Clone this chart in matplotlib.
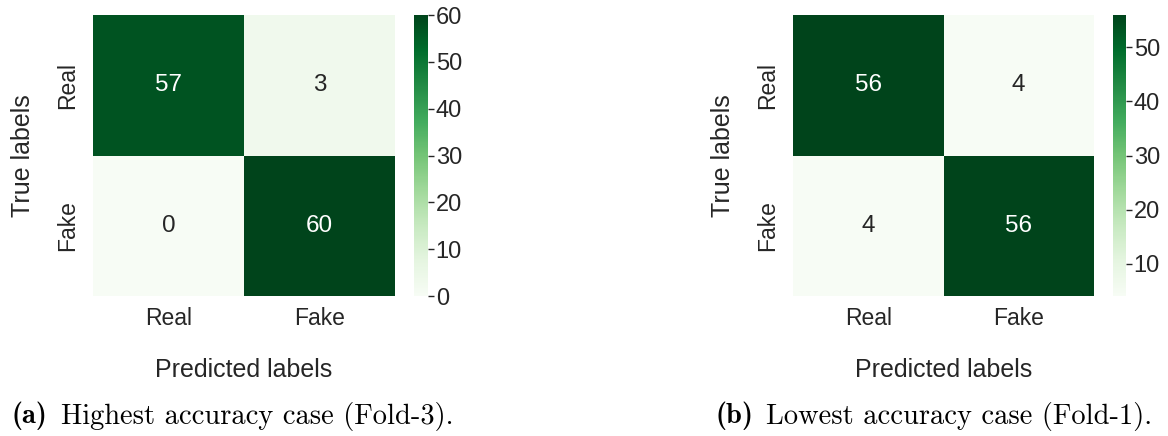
import matplotlib
matplotlib.use("Agg")
import matplotlib.pyplot as plt
from matplotlib.ticker import MultipleLocator
import numpy as np
import seaborn as sns

class_names = ["Real", "Fake"]
cm_fold3 = [[57, 3], [0, 60]]
cm_fold1 = [[56, 4], [4, 56]]
caption_tags = ["(a)", "(b)"]
caption_texts = ["Highest accuracy case (Fold-3).", "Lowest accuracy case (Fold-1)."]

sns.set_theme(style="white")
plt.rcParams["font.family"] = ["Liberation Sans", "DejaVu Sans"]
plt.rcParams["text.color"] = "#262626"

W, H = 1168, 436
fig = plt.figure(figsize=(W / 100, H / 100), dpi=100)

def frac(x0, x1, y0, y1):
    return [x0 / W, 1 - y1 / H, (x1 - x0) / W, (y1 - y0) / H]

panels = [
    (cm_fold3, frac(93, 395, 15, 296), frac(414, 428, 15, 296)),
    (cm_fold1, frac(793, 1094, 15, 296), frac(1113, 1126, 15, 296)),
]

for mat, hm_box, cb_box in panels:
    ax = fig.add_axes(hm_box)
    cax = fig.add_axes(cb_box)
    sns.heatmap(np.array(mat), annot=True, fmt="d", cmap="Greens",
                xticklabels=class_names, yticklabels=class_names,
                ax=ax, cbar_ax=cax, annot_kws={"size": 17.5})
    ax.set_xlabel("Predicted labels", fontsize=18, labelpad=20)
    ax.set_ylabel("True labels", fontsize=18, labelpad=15)
    ax.tick_params(axis="both", labelsize=16.5, length=0)
    ax.tick_params(axis="x", pad=8)
    ax.tick_params(axis="y", pad=10, rotation=90)
    for t in ax.get_yticklabels():
        t.set_va("center")
    cax.yaxis.set_major_locator(MultipleLocator(10))
    cax.tick_params(labelsize=17, length=4, width=1, color="#262626", pad=1.5)
    for s in cax.spines.values():
        s.set_visible(False)

# Sub-figure captions: bold tag followed by roman description
fig.canvas.draw()
renderer = fig.canvas.get_renderer()
for tag, desc, x0 in zip(caption_tags, caption_texts, [12, 715]):
    t = fig.text(x0 / W, 1 - 416 / H, tag, fontfamily="cmb10", fontsize=20.5,
                 va="center", ha="left", color="black")
    bb = t.get_window_extent(renderer)
    fig.text((bb.x1 + 13) / W, 1 - 416 / H, desc, fontfamily="cmr10",
             fontsize=20.5, va="center", ha="left", color="black")

fig.savefig("out.png", dpi=100)
